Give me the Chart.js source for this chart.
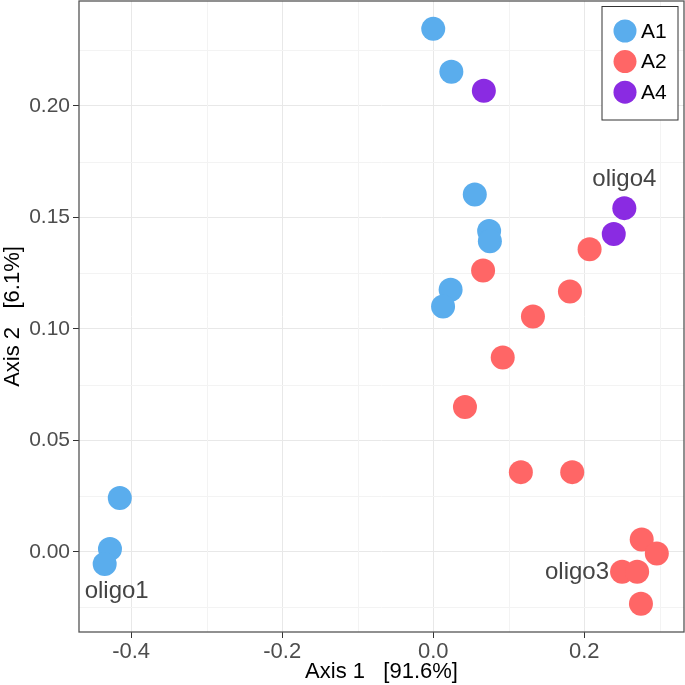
<!DOCTYPE html>
<html>
<head>
<meta charset="utf-8">
<script src="https://cdn.jsdelivr.net/npm/chart.js@4.4.1/dist/chart.umd.min.js"></script>
<style>
  html, body { margin: 0; padding: 0; background: #fff; }
</style>
</head>
<body>
<canvas id="pcoa" width="685" height="685"></canvas>
<script>
// values
const groups = ["A1", "A2", "A4"];
const a1X = [0.000, 0.024, 0.055, 0.074, 0.075, 0.023, 0.013, -0.415, -0.428, -0.435];
const a1Y = [0.2345, 0.2153, 0.1602, 0.1439, 0.1392, 0.1175, 0.1100, 0.0241, 0.0012, -0.0055];
const a2X = [0.066, 0.207, 0.181, 0.132, 0.092, 0.042, 0.116, 0.184, 0.276, 0.296, 0.250, 0.270, 0.275];
const a2Y = [0.1261, 0.1357, 0.1167, 0.1055, 0.0871, 0.0649, 0.0357, 0.0357, 0.0055, -0.0008, -0.0090, -0.0090, -0.0233];
const a4X = [0.067, 0.253, 0.239];
const a4Y = [0.2067, 0.1541, 0.1425];

const xTicks = [-0.4, -0.2, 0.0, 0.2];
const xMinor = [-0.3, -0.1, 0.1, 0.3];
const yTicks = [0.00, 0.05, 0.10, 0.15, 0.20];
const yMinor = [-0.025, 0.025, 0.075, 0.125, 0.175, 0.225];
const xTitle = "Axis 1   [91.6%]";
const yTitle = "Axis 2   [6.1%]";

// sample names shown next to some points
const pointNames = ["oligo1", "oligo3", "oligo4"];
const nameGroup = [0, 1, 2];
const nameIndex = [9, 10, 1];

const colors = ["#5aaded", "#ff6666", "#8a2be2"];
const FONT = "'Liberation Sans', Arial, sans-serif";

function toPoints(xs, ys) {
  return xs.map((x, i) => ({ x: x, y: ys[i] }));
}

const allX = [a1X, a2X, a4X];
const allY = [a1Y, a2Y, a4Y];

const datasets = groups.map((g, i) => ({
  label: g,
  data: toPoints(allX[i], allY[i]),
  backgroundColor: colors[i],
  borderWidth: 0,
  pointRadius: 12,
  pointHoverRadius: 12
}));

// the panel fills the canvas like the ggplot one: pin its edges after layout
const panelArea = {
  id: "panelArea",
  afterLayout(chart) {
    const a = chart.chartArea, sx = chart.scales.x, sy = chart.scales.y;
    a.left = 79; a.right = 684; a.top = 1; a.bottom = 632;
    a.width = a.right - a.left; a.height = a.bottom - a.top;
    sx.left = a.left; sx.right = a.right; sx.width = a.width;
    sx.top = a.bottom; sx.bottom = 685; sx.height = sx.bottom - sx.top;
    sy.top = a.top; sy.bottom = a.bottom; sy.height = a.height;
    sy.left = 0; sy.right = a.left; sy.width = a.left;
    sx.configure();
    sy.configure();
  }
};

// lighter minor grid between the major lines
const minorGrid = {
  id: "minorGrid",
  beforeDatasetsDraw(chart) {
    const a = chart.chartArea, ctx = chart.ctx;
    const sx = chart.scales.x, sy = chart.scales.y;
    ctx.save();
    ctx.strokeStyle = "#f3f3f3";
    ctx.lineWidth = 1;
    ctx.beginPath();
    xMinor.forEach(v => {
      const px = Math.round(sx.getPixelForValue(v)) + 0.5;
      ctx.moveTo(px, a.top);
      ctx.lineTo(px, a.bottom);
    });
    yMinor.forEach(v => {
      const py = Math.round(sy.getPixelForValue(v)) + 0.5;
      ctx.moveTo(a.left, py);
      ctx.lineTo(a.right, py);
    });
    ctx.stroke();
    ctx.restore();
  }
};

// frame around the panel (ggplot theme_bw)
const panelBorder = {
  id: "panelBorder",
  afterDraw(chart) {
    const a = chart.chartArea, ctx = chart.ctx;
    ctx.save();
    ctx.strokeStyle = "#555555";
    ctx.lineWidth = 1.3;
    ctx.strokeRect(a.left, a.top, a.right - a.left, a.bottom - a.top);
    ctx.restore();
  }
};

const nameLabels = {
  id: "nameLabels",
  afterDatasetsDraw(chart) {
    const ctx = chart.ctx;
    ctx.save();
    ctx.font = "24px " + FONT;
    ctx.fillStyle = "#444444";
    ctx.textBaseline = "middle";
    pointNames.forEach((name, k) => {
      const el = chart.getDatasetMeta(nameGroup[k]).data[nameIndex[k]];
      if (name === "oligo1") {
        ctx.textAlign = "center";
        ctx.fillText(name, el.x + 12, el.y + 27);
      } else if (name === "oligo3") {
        ctx.textAlign = "right";
        ctx.fillText(name, el.x - 13, el.y + 1);
      } else {
        ctx.textAlign = "center";
        ctx.fillText(name, el.x, el.y - 29);
      }
    });
    ctx.restore();
  }
};

const boxLegend = {
  id: "boxLegend",
  afterDraw(chart) {
    const ctx = chart.ctx;
    ctx.save();
    ctx.fillStyle = "#ffffff";
    ctx.fillRect(602, 6.5, 76, 113.5);
    ctx.strokeStyle = "#333333";
    ctx.lineWidth = 1;
    ctx.strokeRect(602, 6.5, 76, 113.5);
    ctx.font = "21px " + FONT;
    ctx.textBaseline = "middle";
    ctx.textAlign = "left";
    chart.data.datasets.forEach((ds, i) => {
      const cy = 31 + i * 30.6;
      ctx.fillStyle = ds.backgroundColor;
      ctx.beginPath();
      ctx.arc(625, cy, 11.5, 0, Math.PI * 2);
      ctx.fill();
      ctx.fillStyle = "#000000";
      ctx.fillText(ds.label, 641, cy + 1);
    });
    ctx.restore();
  }
};

const ctx = document.getElementById("pcoa").getContext("2d");
new Chart(ctx, {
  type: "scatter",
  data: { datasets: datasets },
  plugins: [panelArea, minorGrid, panelBorder, nameLabels, boxLegend],
  options: {
    responsive: false,
    animation: false,
    events: [],
    plugins: {
      legend: { display: false },
      tooltip: { enabled: false }
    },
    scales: {
      x: {
        type: "linear",
        min: -0.469,
        max: 0.332,
        afterBuildTicks: s => { s.ticks = xTicks.map(v => ({ value: v })); },
        ticks: {
          autoSkip: false,
          maxRotation: 0,
          padding: 1,
          color: "#4d4d4d",
          font: { family: FONT, size: 22 },
          callback: v => v.toFixed(1)
        },
        grid: {
          color: "#e8e8e8",
          tickColor: "#333333",
          tickLength: 6,
          lineWidth: 1
        },
        border: { display: false },
        title: {
          display: true,
          text: xTitle,
          color: "#000000",
          padding: { top: 0, bottom: 0 },
          font: { family: FONT, size: 22 }
        }
      },
      y: {
        type: "linear",
        min: -0.036,
        max: 0.247,
        afterBuildTicks: s => { s.ticks = yTicks.map(v => ({ value: v })); },
        ticks: {
          autoSkip: false,
          padding: 3,
          color: "#4d4d4d",
          font: { family: FONT, size: 21 },
          callback: v => v.toFixed(2)
        },
        grid: {
          color: "#e8e8e8",
          tickColor: "#333333",
          tickLength: 6,
          lineWidth: 1
        },
        border: { display: false },
        title: {
          display: true,
          text: yTitle,
          color: "#000000",
          padding: { top: 0, bottom: 0 },
          font: { family: FONT, size: 22 }
        }
      }
    }
  }
});
</script>
</body>
</html>
